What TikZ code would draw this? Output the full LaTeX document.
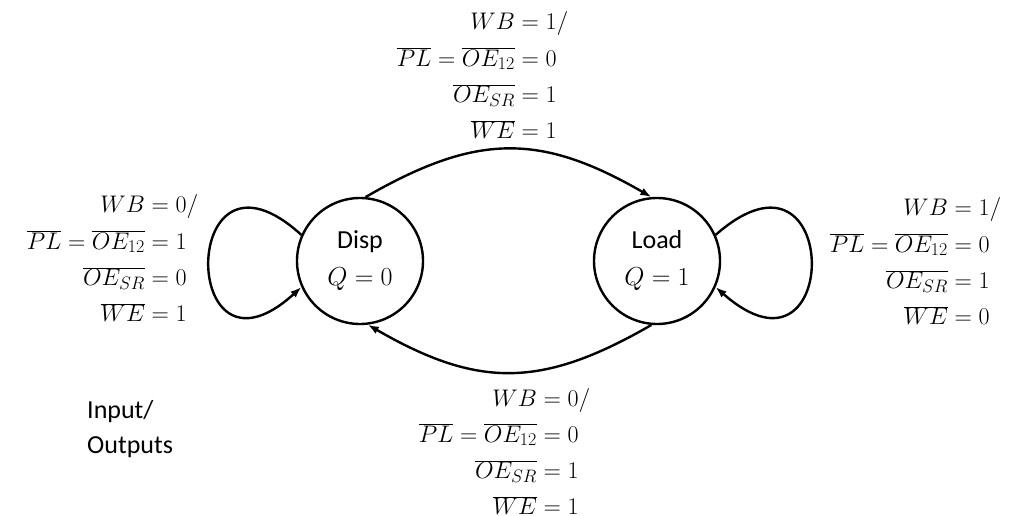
\documentclass[tikz,border=0pt]{standalone}
\usepackage{fix-cm}
\usepackage[no-math]{fontspec}
\setmainfont{Carlito}
\usetikzlibrary{arrows.meta}
\DeclareMathSizes{24}{24}{18}{13}
\DeclareMathSizes{26}{26}{19}{14}
\newlength\halfw
\setlength\halfw{140pt}
\newcommand\eqrow[2]{\makebox[\halfw][r]{$#1$}&\makebox[\halfw][l]{${}#2$}}
\newcommand\eqlabel[4]{\begin{tabular}[t]{@{}l@{}l@{}}\eqrow{WB}{=#1/}\\ \eqrow{\overline{PL}=\overline{OE_{12}}}{=#2}\\ \eqrow{\overline{OE_{SR}}}{=#3}\\ \eqrow{\overline{WE}}{=#4}\end{tabular}}
\tikzset{
  state/.style={circle, draw, line width=2.4pt, minimum size=126pt, inner sep=0pt,
    align=center, font=\fontsize{26}{37}\selectfont},
  conn/.style={line width=2.4pt, -{Latex[length=11pt,width=8pt]}},
  eqlab/.style={inner sep=0pt, anchor=base, font=\fontsize{24}{36.3}\selectfont},
  plain/.style={inner sep=0pt, align=left, font=\fontsize{26}{35}\selectfont}
}
\begin{document}
\begin{tikzpicture}[x=1pt,y=1pt]
\useasboundingbox (0,0) rectangle (1020,515);
\node[state] (disp) at (360,254) {Disp\\$Q=0$};
\node[state] (load) at (657,254) {Load\\$Q=1$};
\draw[conn] (disp.85) to[out=30,in=150,looseness=1.15] (load.95);
\draw[conn] (load.-95) to[out=210,in=-30,looseness=1.15] (disp.-83);
\draw[conn] (disp.156) .. controls +(-123,112) and +(-123,-112) .. (disp.204);
\draw[conn] (load.24) .. controls +(127,112) and +(127,-112) .. (load.-24);
\node[eqlab] (toplab) at (515,485) {\eqlabel{1}{0}{1}{1}};
\node[eqlab] (leftlab) at (145,302) {\eqlabel{0}{1}{0}{1}};
\node[eqlab] (rightlab) at (948,299) {\eqlabel{1}{0}{1}{0}};
\node[eqlab] (botlab) at (537,109) {\eqlabel{0}{0}{1}{1}};
\node[plain, anchor=base west] (io) at (87,62) {Input/\\Outputs};
\end{tikzpicture}
\end{document}
